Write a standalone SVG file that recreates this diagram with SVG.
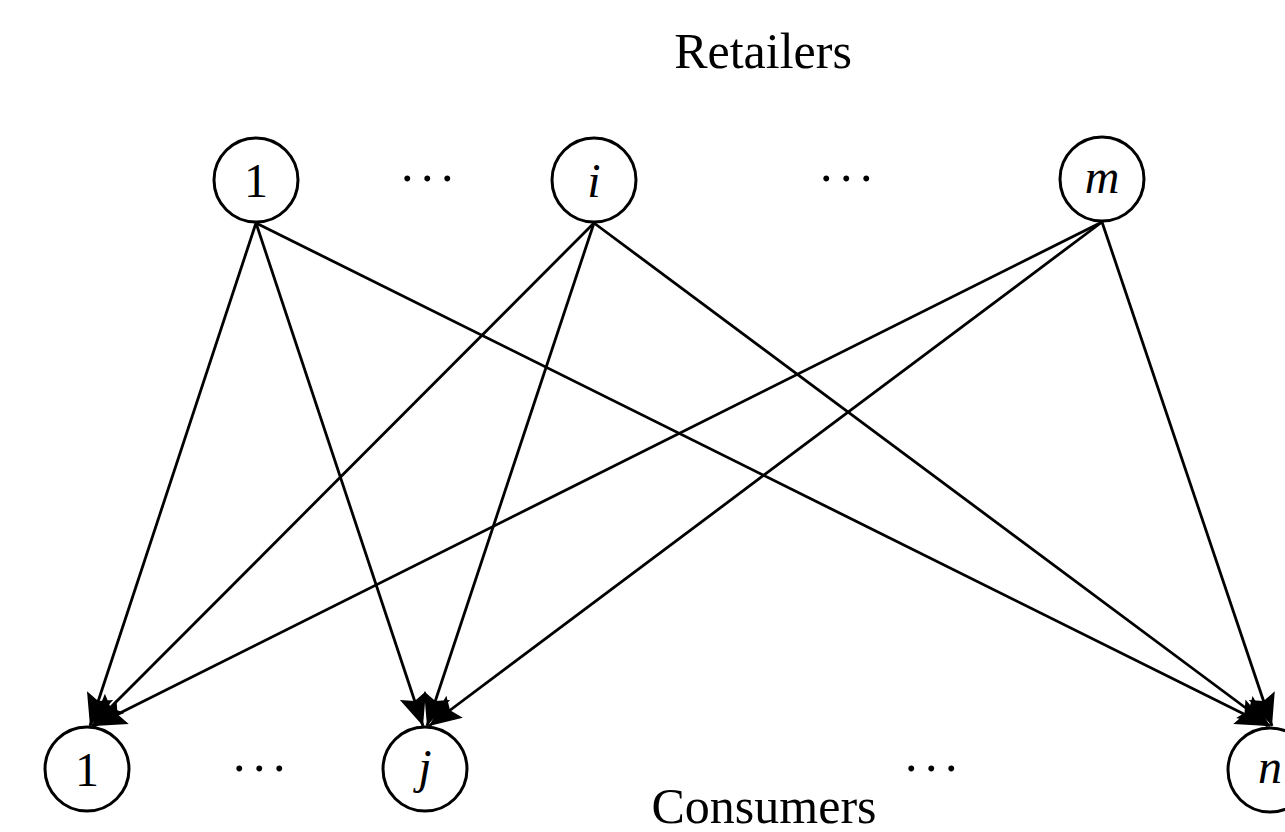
<svg xmlns="http://www.w3.org/2000/svg" width="1285" height="832" viewBox="0 0 1285 832">
<style>
.node circle{fill:#fff;stroke:#000;stroke-width:3}
.lbl{font-family:"Liberation Serif","Times New Roman",serif;font-size:48px;text-anchor:middle;fill:#000}
.it{font-style:italic}
.title{font-family:"Liberation Serif","Times New Roman",serif;font-size:50px;text-anchor:middle;fill:#000}
.dots{font-family:"Liberation Serif","Times New Roman",serif;font-size:50px;fill:#000;letter-spacing:7.5px}
#edges line{stroke:#000;stroke-width:2.8;marker-end:url(#ah)}
</style>
<defs>
<marker id="ah" markerUnits="userSpaceOnUse" markerWidth="32" markerHeight="32" viewBox="0 0 28 24" refX="28" refY="12" orient="auto">
<path d="M0,0 L28,12 L0,24 L5,12 Z" fill="#000"/>
</marker>
</defs>
<rect width="1285" height="832" fill="#fff"/>
<text class="title" x="763" y="68">Retailers</text>
<text class="title" x="764" y="823">Consumers</text>
<text class="dots" x="401" y="181">...</text>
<text class="dots" x="820" y="181">...</text>
<text class="dots" x="233" y="771">...</text>
<text class="dots" x="905" y="771">...</text>
<g id="edges">
<line x1="256" y1="223" x2="90" y2="726"/>
<line x1="256" y1="223" x2="423" y2="726"/>
<line x1="256" y1="223" x2="1268" y2="726"/>
<line x1="594" y1="223" x2="92" y2="726"/>
<line x1="594" y1="223" x2="427" y2="726"/>
<line x1="594" y1="223" x2="1270" y2="726"/>
<line x1="1102" y1="222" x2="94" y2="726"/>
<line x1="1102" y1="222" x2="429" y2="726"/>
<line x1="1102" y1="222" x2="1272" y2="726"/>
</g>
<g id="r1" class="node"><circle cx="256" cy="180" r="42"/><text class="lbl" x="256" y="197">1</text></g>
<g id="ri" class="node"><circle cx="594" cy="180" r="42"/><text class="lbl it" x="594" y="197">i</text></g>
<g id="rm" class="node"><circle cx="1102" cy="179" r="42"/><text class="lbl it" x="1102" y="193">m</text></g>
<g id="c1" class="node"><circle cx="87" cy="769" r="42"/><text class="lbl" x="87" y="786">1</text></g>
<g id="cj" class="node"><circle cx="425" cy="769" r="42"/><text class="lbl it" x="425" y="783">j</text></g>
<g id="cn" class="node"><circle cx="1270" cy="770" r="42"/><text class="lbl it" x="1270" y="783">n</text></g>
</svg>
